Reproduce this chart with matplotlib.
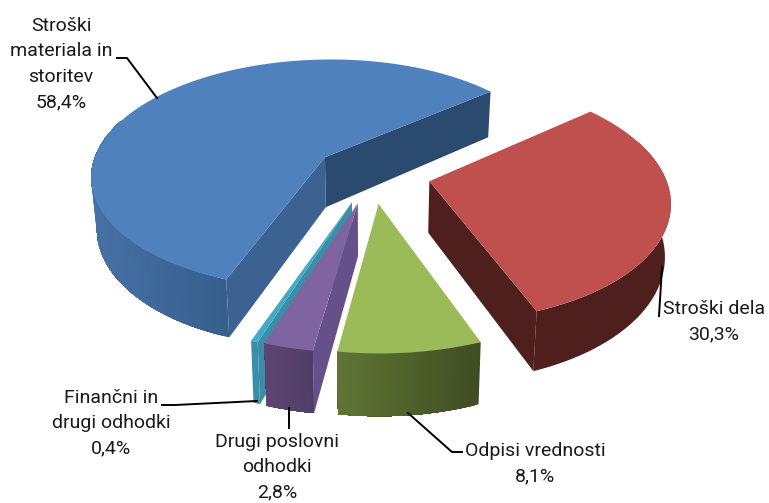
import numpy as np
import matplotlib
matplotlib.use('Agg')
import matplotlib.pyplot as plt
from matplotlib.colors import to_rgb

# data, in the order the slices go round clockwise
labels = ['Stroški dela', 'Odpisi vrednosti', 'Drugi poslovni\nodhodki',
          'Finančni in\ndrugi odhodki', 'Stroški\nmateriala in\nstoritev']
shares = [30.3, 8.1, 2.8, 0.4, 58.4]
share_text = ['30,3%', '8,1%', '2,8%', '0,4%', '58,4%']

tops = ['#C0504D', '#9BBB59', '#8064A2', '#45A8C4', '#4F81BD']
# None = that cut face looks away from the viewer
cut_start = [None, None, '#66508A', '#3A8EA6', '#3B6290']
cut_end = ['#4F1F1E', None, None, None, '#2A4A70']
side_left = ['#4F1F1E', '#5F7535', '#5E4574', '#3A8EA6', '#4771A6']
side_right = ['#4F1F1E', '#3F4D22', '#4F3E67', '#3A8EA6', '#365F8C']

label_pos = [(714, 322), (535, 464), (277, 467), (111, 423), (61, 64)]
leaders = [[(659, 316), (662, 267)],
           [(408, 413), (452, 452), (462, 452)],
           [(289, 408), (289, 428)],
           [(162, 405), (175, 405), (257, 401)],
           [(117, 58), (127, 58), (157, 98)]]

first_angle = 50.2   # degrees from north, clockwise
explode = 0.25
draw_order = [4, 3, 2, 0, 1]

# projection of the pie, pixels
cx, cy = 372, 173.7
kx, ky = 235, 117
persp = 0.15
height = 51


def project(X, Y, z=0.0):
    f = 1 + persp * Y
    sx = cx + kx * X / f
    sy = cy - ky * Y / f + z * height / f
    if z:
        sx = cx + (sx - cx) * 0.98
    return sx, sy


def hanging(ax, X, Y, color):
    # face hanging down below the top edge X,Y
    x0, y0 = project(X, Y)
    x1, y1 = project(X, Y, 1)
    ax.fill(np.r_[x0, x1[::-1]], np.r_[y0, y1[::-1]], color=color, lw=0)


fig = plt.figure(figsize=(7.69, 5.03), dpi=100)
ax = fig.add_axes([0, 0, 1, 1])
ax.set_xlim(0, 769)
ax.set_ylim(503, 0)
ax.axis('off')

edges = first_angle + np.cumsum([0] + shares) * 3.6

for i in draw_order:
    a0, a1 = edges[i], edges[i + 1]
    mid = np.radians((a0 + a1) / 2)
    ox, oy = explode * np.sin(mid), explode * np.cos(mid)
    phi = np.radians(np.linspace(a0, a1, 160))
    X = ox + np.sin(phi)
    Y = oy + np.cos(phi)

    if cut_end[i]:
        hanging(ax, np.array([ox, X[-1]]), np.array([oy, Y[-1]]), cut_end[i])
    if cut_start[i]:
        hanging(ax, np.array([ox, X[0]]), np.array([oy, Y[0]]), cut_start[i])

    # outer rim, the part turned to the viewer and a bit more, the top face
    # hides the rest. each strip runs on to the end of the rim and the next
    # one paints over it, so no seams show
    idx = np.where(np.cos(phi) < 0.35)[0]
    sx, _ = project(X, Y)
    lo, hi = sx[idx].min(), sx[idx].max()
    c0, c1 = np.array(to_rgb(side_left[i])), np.array(to_rgb(side_right[i]))
    n_strips = len(idx) - 1 if side_left[i] != side_right[i] else 1
    for j in range(n_strips):
        part = idx[j:]
        t = (sx[part[0]] - lo) / max(hi - lo, 1)
        hanging(ax, X[part], Y[part], tuple(c0 + (c1 - c0) * t))

    px, py = project(np.r_[ox, X], np.r_[oy, Y])
    ax.fill(px, py, color=tops[i], lw=0)

for i in range(len(labels)):
    ax.text(label_pos[i][0], label_pos[i][1], labels[i] + '\n' + share_text[i],
            ha='center', va='center', multialignment='center',
            family='Roboto', fontsize=14, color='#1a1a1a', linespacing=1.52)
    ax.plot([p[0] for p in leaders[i]], [p[1] for p in leaders[i]],
            color='black', lw=1.4, solid_joinstyle='miter')

fig.savefig('out.png', dpi=100, facecolor='white')
